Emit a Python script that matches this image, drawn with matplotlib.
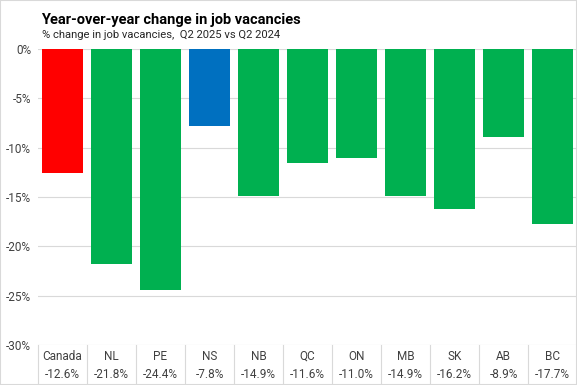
import matplotlib.pyplot as plt
import numpy as np
from matplotlib.transforms import blended_transform_factory

# Data
regions = ['Canada', 'NL', 'PE', 'NS', 'NB', 'QC', 'ON', 'MB', 'SK', 'AB', 'BC']
change = [-12.6, -21.8, -24.4, -7.8, -14.9, -11.6, -11.0, -14.9, -16.2, -8.9, -17.7]
yticks = [0, -5, -10, -15, -20, -25, -30]

RED = '#FF0000'
GREEN = '#00B050'
BLUE = '#0070C0'
colors = [RED if r == 'Canada' else BLUE if r == 'NS' else GREEN for r in regions]

plt.rcParams['font.family'] = ['Roboto', 'DejaVu Sans']

fig = plt.figure(figsize=(5.77, 3.85), dpi=100)
ax = fig.add_axes([38/577, 1-345/385, 1-38/577, (345-49)/385])

x = np.arange(len(regions))
ax.bar(x, change, width=0.83, color=colors, zorder=3)

ax.set_xlim(-0.5, len(regions)-0.5)
ax.set_ylim(-30, 0)
ax.set_yticks(yticks)
ax.set_yticklabels([f'{t}%' for t in yticks], fontsize=8.5, color='#404040')
ax.tick_params(axis='y', length=0, pad=5)
ax.set_xticks([])
ax.grid(axis='y', color='#D9D9D9', linewidth=0.8, zorder=0)
for s in ax.spines.values():
    s.set_visible(False)

# category table under the axis
trans = blended_transform_factory(ax.transData, ax.transAxes)
for i, (r, v) in enumerate(zip(regions, change)):
    ax.text(i, -0.038, r, transform=trans, ha='center', va='center', fontsize=8.5, color='#404040')
    ax.text(i, -0.098, f'{v:.1f}%', transform=trans, ha='center', va='center', fontsize=8.5, color='#404040')
for b in np.arange(-0.5, len(regions), 1.0):
    ax.plot([b, b], [0, -0.14], transform=trans, color='#D9D9D9', linewidth=0.8, clip_on=False)

fig.text(41/577, 1-24/385, 'Year-over-year change in job vacancies', fontsize=10.5, fontweight='bold',
         color='black', va='baseline')
fig.text(42/577, 1-38/385, '% change in job vacancies,  Q2 2025 vs Q2 2024', fontsize=8.1,
         color='#262626', va='baseline')

# grey frame around the chart
fig.patches.append(plt.Rectangle((0, 0), 1, 1, transform=fig.transFigure, fill=False,
                                 edgecolor='#D9D9D9', linewidth=1.5))

fig.savefig('out.png', dpi=100)
